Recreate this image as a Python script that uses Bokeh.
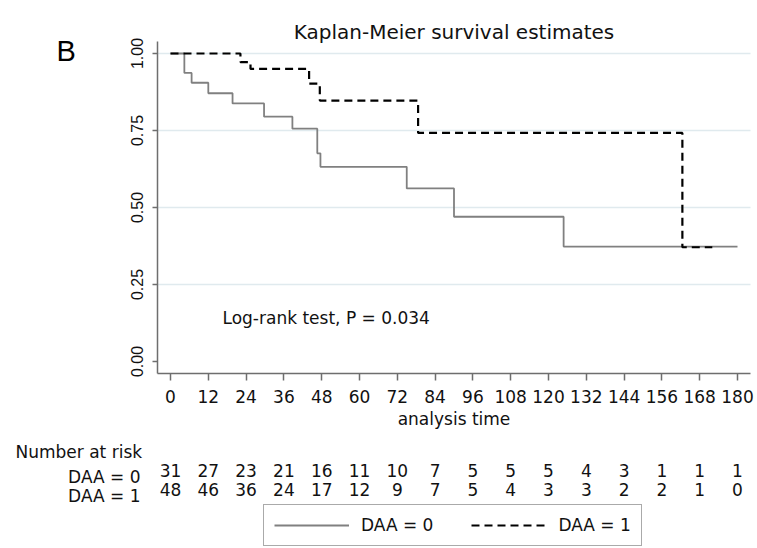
from bokeh.plotting import figure
from bokeh.models import (Range1d, FixedTicker, Label, LabelSet, ColumnDataSource,
                          Legend, LegendItem, LinearAxis)
from bokeh.core.properties import value
from bokeh.embed import file_html
from bokeh.resources import INLINE

# ---- data ----
title_text = "Kaplan-Meier survival estimates"
panel_letter = "B"
x_ticks = [0, 12, 24, 36, 48, 60, 72, 84, 96, 108, 120, 132, 144, 156, 168, 180]
y_ticks = [0.0, 0.25, 0.5, 0.75, 1.0]
y_tick_labels = ["0.00", "0.25", "0.50", "0.75", "1.00"]
x_label = "analysis time"

daa0_time = [0, 4.4, 6.7, 12, 19.7, 29.7, 38.7, 46.6, 47.6, 75, 90, 124.8, 180]
daa0_surv = [1.0, 0.937, 0.905, 0.871, 0.838, 0.795, 0.756, 0.676, 0.632, 0.562, 0.470, 0.373, 0.373]
daa1_time = [0, 22.2, 25.4, 44.0, 47.4, 78.6, 162.5, 172]
daa1_surv = [1.0, 0.972, 0.950, 0.902, 0.847, 0.742, 0.371, 0.371]

risk_label = "Number at risk"
group_names = ["DAA = 0", "DAA = 1"]
risk_daa0 = [31, 27, 23, 21, 16, 11, 10, 7, 5, 5, 5, 4, 3, 1, 1, 1]
risk_daa1 = [48, 46, 36, 24, 17, 12, 9, 7, 5, 4, 3, 3, 2, 2, 1, 0]
logrank_text = "Log-rank test, P = 0.034"

FONT = "DejaVu Sans"
TXT = "#111111"
W, H = 757, 548
X0, XS = 170.0, 3.15      # pixel of t=0, pixels per month
Y0, YS = 361.0, 308.0     # pixel of S=0, pixels per unit survival

def tx(px):
    return (px - X0) / XS

def sy(py):
    return (Y0 - py) / YS

x_lo, x_hi = tx(157), tx(750)
y_lo, y_hi = sy(373), sy(41)

p = figure(width=W, height=H, output_backend="svg", toolbar_location=None,
           x_range=Range1d(tx(0), tx(W)), y_range=Range1d(sy(H), sy(0)),
           x_axis_location=None, y_axis_location=None,
           min_border=0, min_border_left=0, min_border_right=0,
           min_border_top=0, min_border_bottom=0)
p.outline_line_color = None
p.background_fill_color = "white"
p.border_fill_color = "white"
p.xgrid.visible = False
p.ygrid.visible = False

# grid lines (at the y ticks above zero)
grid_y = y_ticks[1:]
p.segment(x0=[x_lo] * len(grid_y), x1=[x_hi] * len(grid_y), y0=grid_y, y1=grid_y,
          line_color="#e0eaee", line_width=1.5)

# axes
xaxis = LinearAxis(fixed_location=y_lo, bounds=(x_lo, x_hi), ticker=FixedTicker(ticks=x_ticks))
yaxis = LinearAxis(fixed_location=x_lo, bounds=(y_lo, y_hi), ticker=FixedTicker(ticks=y_ticks))
yaxis.major_label_overrides = {t: s for t, s in zip(y_ticks, y_tick_labels)}
for ax in (xaxis, yaxis):
    ax.axis_line_color = "#6e6e6e"
    ax.axis_line_width = 1.5
    ax.major_tick_line_color = "#6e6e6e"
    ax.major_tick_line_width = 1.5
    ax.minor_tick_line_color = None
    ax.major_tick_in = 0
    ax.major_label_text_color = TXT
xaxis.major_tick_out = 7
xaxis.major_label_text_font = FONT
xaxis.major_label_text_font_size = "17px"
xaxis.major_label_standoff = 9
xaxis.axis_label = x_label
xaxis.axis_label_text_font = FONT
xaxis.axis_label_text_font_size = "17px"
xaxis.axis_label_text_font_style = "normal"
xaxis.axis_label_text_color = TXT
xaxis.axis_label_standoff = 3
yaxis.major_tick_out = 5
yaxis.major_label_orientation = "vertical"
yaxis.major_label_text_font = "Liberation Sans"
yaxis.major_label_text_font_size = "16px"
yaxis.major_label_standoff = 10
p.add_layout(xaxis, "below")
p.add_layout(yaxis, "left")

# curves
r0 = p.step(daa0_time, daa0_surv, mode="after", line_color="#808080", line_width=1.8)
r1 = p.step(daa1_time, daa1_surv, mode="after", line_color="black", line_width=2.2,
            line_dash="8 5")

# text annotations (screen y measured from the bottom of the canvas)
p.add_layout(Label(x=453.5, y=H - 31, x_units="screen", y_units="screen", text=title_text,
                   text_font=FONT, text_font_size="20px", text_color=TXT,
                   text_align="center", text_baseline="alphabetic"))
p.add_layout(Label(x=56, y=H - 50, x_units="screen", y_units="screen", text=panel_letter,
                   text_font="Liberation Sans", text_font_size="29px", text_color="black",
                   text_baseline="alphabetic"))
p.add_layout(Label(x=tx(222), y=sy(317), text=logrank_text, text_font=FONT,
                   text_font_size="17px", text_color=TXT, text_baseline="alphabetic"))

# risk table
p.add_layout(Label(x=15, y=H - 451, x_units="screen", y_units="screen", text=risk_label,
                   text_font=FONT, text_font_size="17px", text_color=TXT,
                   text_baseline="alphabetic"))
for name, counts, base in [(group_names[0], risk_daa0, 476), (group_names[1], risk_daa1, 495)]:
    p.add_layout(Label(x=140, y=H - base, x_units="screen", y_units="screen", text=name,
                       text_font=FONT, text_font_size="17px", text_color=TXT,
                       text_align="right", text_baseline="alphabetic"))
    src = ColumnDataSource(dict(x=x_ticks, t=[str(c) for c in counts]))
    p.add_layout(LabelSet(x="x", y=H - base, y_units="screen", text="t", source=src,
                          text_font=value(FONT), text_font_size=value("17px"),
                          text_color=TXT, text_align="center",
                          text_baseline="alphabetic"))

legend = Legend(items=[LegendItem(label=group_names[0], renderers=[r0]),
                       LegendItem(label=group_names[1], renderers=[r1])],
                orientation="horizontal", location=(263, 2), margin=0,
                padding=10, spacing=38, glyph_width=75, glyph_height=18,
                label_standoff=12, label_text_font=FONT, label_text_font_size="17px",
                label_text_color=TXT, border_line_color="#555555", border_line_width=1.5,
                background_fill_color="white", background_fill_alpha=1.0)
p.add_layout(legend)

open("out.html", "w").write(file_html(p, INLINE))
